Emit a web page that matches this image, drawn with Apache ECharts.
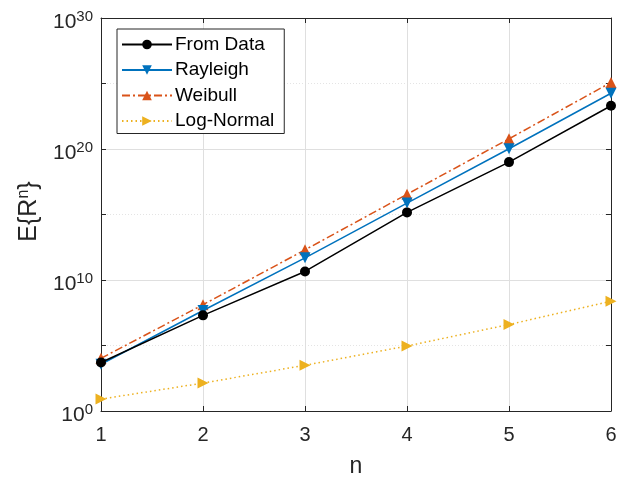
<!DOCTYPE html>
<html>
<head>
<meta charset="utf-8">
<script src="https://cdn.jsdelivr.net/npm/echarts@6/dist/echarts.min.js"></script>
<style>
  html, body { margin: 0; padding: 0; background: #fff; }
  #chartDiv { width: 629px; height: 483px; }
</style>
</head>
<body>
<div id="chartDiv"></div>
<script>
// n values on the x axis
var nValues = [1, 2, 3, 4, 5, 6];
// E{R^n}
var fromData  = [5e3, 2e7, 4.5e10, 1.45e15, 1e19, 2e23];
var rayleigh  = [3.7e3, 4.7e7, 4.9e11, 7.4e15, 1.05e20, 1.8e24];
var weibull   = [1.05e4, 1.3e8, 2e12, 3.5e16, 6e20, 1.2e25];
var logNormal = [8.1, 135, 3.1e3, 9.1e4, 4e6, 2.4e8];
var seriesNames = ['From Data', 'Rayleigh', 'Weibull', 'Log-Normal'];

function pairs(vals) {
    return vals.map(function (v, i) { return [nValues[i], v]; });
}

var axisColor = '#262626';
var gridColor = '#dfdfdf';
var fontFamily = 'Liberation Sans, Arial, sans-serif';

var myChart = echarts.init(document.getElementById('chartDiv'));

var option = {
    animation: false,
    textStyle: { fontFamily: fontFamily },
    grid: { left: 101, right: 18, top: 18, bottom: 71 },
    legend: {
        orient: 'vertical',
        left: 117,
        top: 29,
        data: seriesNames,
        itemWidth: 50,
        itemHeight: 12,
        itemGap: 4.5,
        padding: [5, 10, 2, 4],
        backgroundColor: '#fff',
        borderColor: axisColor,
        borderWidth: 1,
        borderRadius: 0,
        textStyle: { fontSize: 19, color: '#000', lineHeight: 21, padding: [0, 0, 0, -2] }
    },
    xAxis: [{
        type: 'value',
        min: 1, max: 6, interval: 1,
        name: 'n',
        nameLocation: 'middle',
        nameGap: 44,
        nameTextStyle: { fontSize: 23, color: axisColor },
        axisLine: { lineStyle: { color: axisColor } },
        axisTick: { inside: true, length: 5, lineStyle: { color: axisColor } },
        axisLabel: { fontSize: 20, color: axisColor, margin: 14 },
        splitLine: { show: true, lineStyle: { color: gridColor } }
    }, {
        type: 'value',
        position: 'top',
        min: 1, max: 6, interval: 1,
        axisLine: { show: true, lineStyle: { color: axisColor } },
        axisTick: { show: true, inside: true, length: 5, lineStyle: { color: axisColor } },
        axisLabel: { show: false },
        splitLine: { show: false }
    }],
    yAxis: [{
        type: 'log',
        logBase: 10,
        min: 1, max: 1e30, interval: 5,
        name: 'E{R{sup|n}}',
        nameLocation: 'middle',
        nameGap: 56,
        nameRotate: 90,
        nameTextStyle: {
            fontSize: 25, color: axisColor, padding: [0, 0, 0, 6],
            rich: { sup: { fontSize: 16, color: axisColor, padding: [0, 0, 12, 0] } }
        },
        axisLine: { show: true, lineStyle: { color: axisColor } },
        axisTick: { show: true, inside: true, length: 5, lineStyle: { color: axisColor } },
        axisLabel: {
            fontSize: 21, color: axisColor, margin: 8,
            padding: [9, 0, 0, 0],
            formatter: function (v) {
                var e = Math.round(Math.log10(v));
                if (e % 10 !== 0) return '';
                return '10{sup|' + e + '}';
            },
            rich: { sup: { fontSize: 15, color: axisColor, padding: [0, 0, 12, 0] } }
        },
        splitLine: { show: true, lineStyle: { color: '#e4e4e4', type: [1, 2] } }
    }, {
        type: 'log',
        logBase: 10,
        position: 'right',
        min: 1, max: 1e30, interval: 5,
        axisLine: { show: true, lineStyle: { color: axisColor } },
        axisTick: { show: true, inside: true, length: 5, lineStyle: { color: axisColor } },
        axisLabel: { show: false },
        splitLine: { show: false }
    }, {
        type: 'log',
        logBase: 10,
        position: 'left',
        min: 1, max: 1e30, interval: 10,
        axisLine: { show: false },
        axisTick: { show: false },
        axisLabel: { show: false },
        splitLine: { show: true, lineStyle: { color: gridColor } }
    }],
    series: [{
        name: seriesNames[0],
        type: 'line',
        data: pairs(fromData),
        symbol: 'circle',
        symbolSize: 10,
        color: '#000000',
        lineStyle: { width: 1.5, color: '#000000' },
        z: 5
    }, {
        name: seriesNames[1],
        type: 'line',
        data: pairs(rayleigh),
        symbol: 'triangle',
        symbolRotate: 180,
        symbolSize: 11,
        color: '#0072BD',
        lineStyle: { width: 1.5, color: '#0072BD' },
        z: 4
    }, {
        name: seriesNames[2],
        type: 'line',
        data: pairs(weibull),
        symbol: 'triangle',
        symbolSize: 11,
        color: '#D95319',
        lineStyle: { width: 1.5, color: '#D95319', type: [8, 3, 2, 3] },
        z: 3
    }, {
        name: seriesNames[3],
        type: 'line',
        data: pairs(logNormal),
        symbol: 'triangle',
        symbolRotate: -90,
        symbolSize: 11,
        color: '#EDB120',
        lineStyle: { width: 1.5, color: '#EDB120', type: [1.5, 3] },
        z: 2
    }]
};

myChart.setOption(option);
window.onresize = myChart.resize;
</script>
</body>
</html>
